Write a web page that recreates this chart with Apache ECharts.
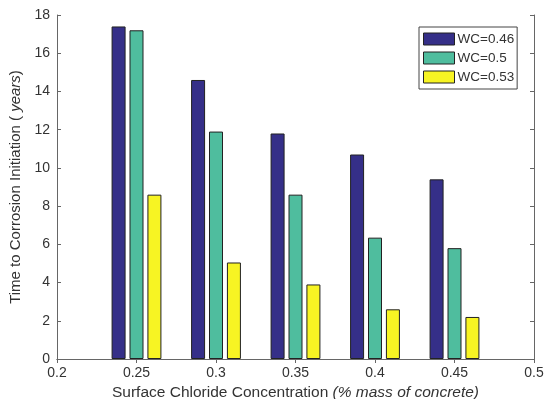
<!DOCTYPE html>
<html>
<head>
<meta charset="utf-8">
<script src="https://cdn.jsdelivr.net/npm/echarts@6/dist/echarts.min.js"></script>
<style>
html,body{margin:0;padding:0;background:#fff;}
#chart{width:547px;height:399px;}
</style>
</head>
<body>
<div id="chart"></div>
<script>
const categories = [0.25, 0.3, 0.35, 0.4, 0.45];
const seriesNames = ['WC=0.46', 'WC=0.5', 'WC=0.53'];
const wc046 = [17.4, 14.6, 11.8, 10.7, 9.4];
const wc05 = [17.2, 11.9, 8.6, 6.35, 5.8];
const wc053 = [8.6, 5.05, 3.9, 2.6, 2.2];
const colors = ['#352f88', '#4fbd9e', '#f7f423'];

const font = 'Liberation Sans, Arial, sans-serif';
const axisCol = '#666';
const txtCol = '#333';

const values = [wc046, wc05, wc053];
const series = values.map((arr, i) => ({
  name: seriesNames[i],
  type: 'bar',
  barWidth: 14,
  barGap: '28%',
  data: categories.map((c, j) => [c, arr[j]]),
  itemStyle: { color: colors[i], borderColor: '#222', borderWidth: 1 }
}));

const chart = echarts.init(document.getElementById('chart'));
chart.setOption({
  animation: false,
  textStyle: { fontFamily: font },
  grid: { left: 57, right: 13, top: 15, bottom: 40, containLabel: false, outerBoundsMode: 'none' },
  legend: {
    orient: 'vertical',
    left: 419, top: 27,
    width: 98,
    padding: [5, 3, 5, 4],
    itemWidth: 31, itemHeight: 12, itemGap: 5,
    icon: 'rect',
    backgroundColor: '#fff',
    borderColor: '#444', borderWidth: 1,
    itemStyle: { borderColor: '#222', borderWidth: 1 },
    textStyle: { fontSize: 13.5, color: txtCol, fontFamily: font, padding: [0, 0, 0, -2] },
    data: seriesNames
  },
  xAxis: [{
    type: 'value', min: 0.2, max: 0.5, interval: 0.05,
    position: 'bottom',
    name: '{n|Surface Chloride Concentration }{i|(% mass of concrete)}',
    nameLocation: 'middle', nameGap: 26,
    nameTextStyle: {
      rich: {
        n: { fontSize: 15.5, color: txtCol, fontFamily: font },
        i: { fontSize: 15.5, color: txtCol, fontFamily: font, fontStyle: 'italic' }
      }
    },
    axisLine: { show: true, lineStyle: { color: axisCol, width: 1 } },
    axisTick: { show: true, inside: true, length: 4, lineStyle: { color: axisCol } },
    axisLabel: { fontSize: 14, color: txtCol, margin: 7, formatter: v => String(parseFloat(v.toFixed(2))) },
    splitLine: { show: false }
  }, {
    type: 'value', min: 0.2, max: 0.5, interval: 0.05,
    position: 'top',
    axisLine: { show: true, lineStyle: { color: axisCol, width: 1 } },
    axisTick: { show: true, inside: true, length: 4, lineStyle: { color: axisCol } },
    axisLabel: { show: false },
    splitLine: { show: false }
  }],
  yAxis: [{
    type: 'value', min: 0, max: 18, interval: 2,
    position: 'left',
    name: '{n|Time to Corrosion Initiation ( }{i|years}{n|)}',
    nameLocation: 'middle', nameGap: 28, nameRotate: 90,
    nameTextStyle: {
      rich: {
        n: { fontSize: 15, color: txtCol, fontFamily: font },
        i: { fontSize: 15, color: txtCol, fontFamily: font, fontStyle: 'italic' }
      }
    },
    axisLine: { show: true, lineStyle: { color: axisCol, width: 1 } },
    axisTick: { show: true, inside: true, length: 4, lineStyle: { color: axisCol } },
    axisLabel: { fontSize: 14, color: txtCol, margin: 7 },
    splitLine: { show: false }
  }, {
    type: 'value', min: 0, max: 18, interval: 2,
    position: 'right',
    axisLine: { show: true, lineStyle: { color: axisCol, width: 1 } },
    axisTick: { show: true, inside: true, length: 4, lineStyle: { color: axisCol } },
    axisLabel: { show: false },
    splitLine: { show: false }
  }],
  series: series
});
</script>
</body>
</html>
